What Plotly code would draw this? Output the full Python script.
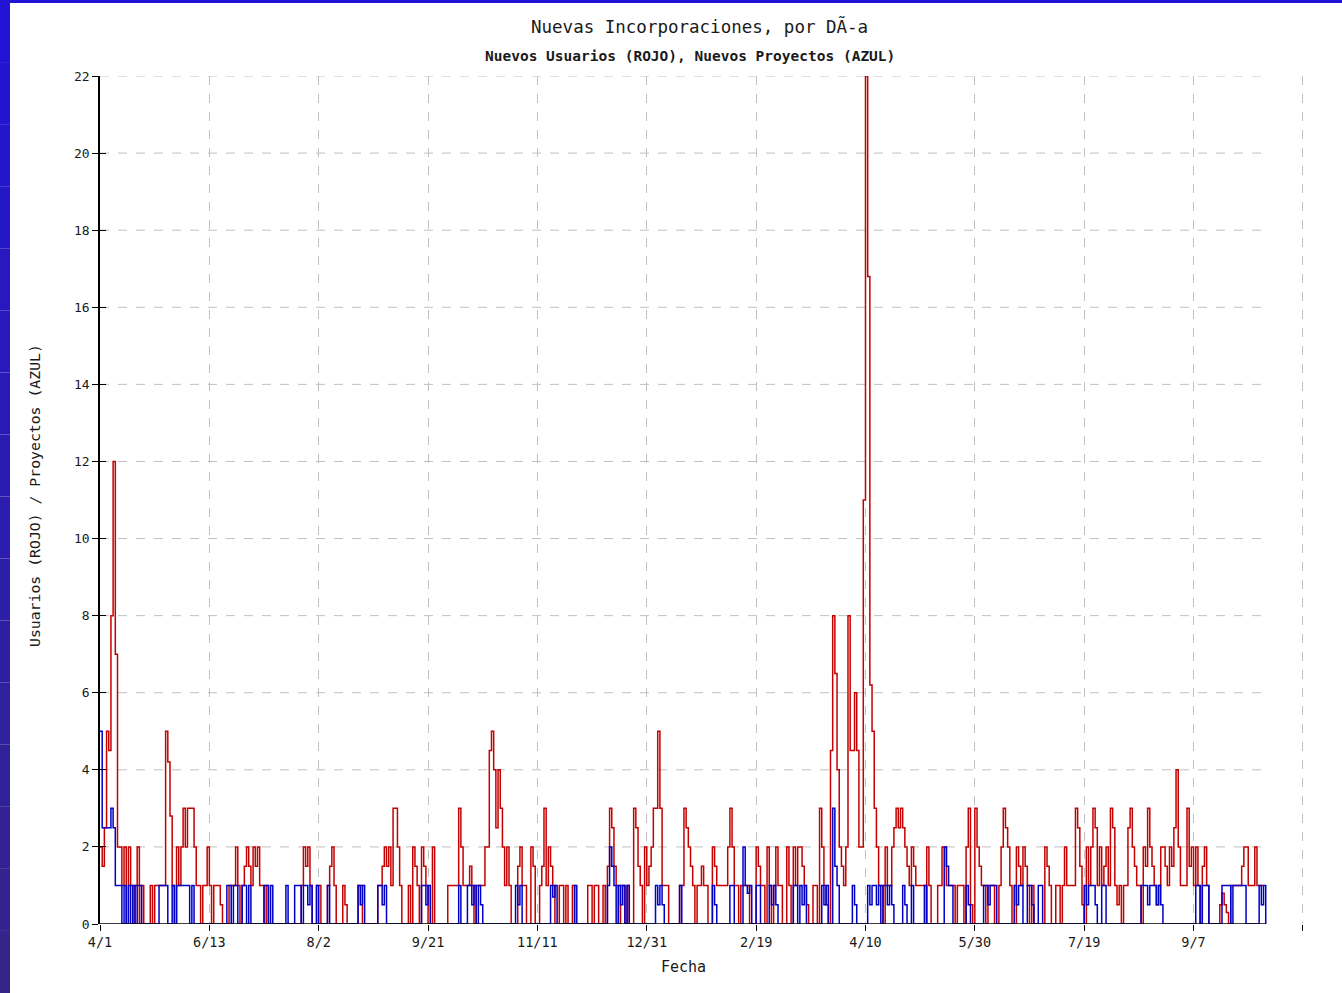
import plotly.graph_objects as go

# Nuevos usuarios por día (ROJO)
usuarios = [
    2, 1.5, 2.5, 5, 4.5, 8, 12, 7, 2, 2,
    1, 2, 0, 2, 1, 0, 1, 2, 0, 1,
    0, 0, 0, 1, 0, 1, 1, 1, 1, 1,
    5, 4.2, 2.8, 1, 0, 2, 1, 2, 3, 2,
    3, 3, 3, 2, 1, 1, 0, 1, 1, 2,
    1, 0, 1, 1, 1, 0.5, 0, 0, 0, 1,
    1, 1, 2, 1, 0, 1, 1.5, 2, 1.5, 1,
    2, 1.5, 2, 1, 1, 0, 1, 0, 0, 0,
    0, 0, 0, 0, 0, 0, 0, 0, 0, 0,
    0, 0, 1, 2, 1.5, 2, 1, 0, 0, 1,
    1, 0, 0, 0, 1, 1.5, 2, 1, 0, 0,
    0, 1, 0.5, 0, 0, 0, 0, 0, 1, 1,
    0, 0, 0, 0, 0, 0, 0, 1, 1, 1.5,
    2, 1.5, 2, 1, 3, 3, 2, 1, 0, 0,
    0, 1, 0, 2, 1.5, 1, 0, 2, 1.5, 1,
    0, 0, 2, 0, 0, 0, 0, 0, 0, 1,
    1, 1, 1, 1, 3, 2, 1, 1, 1, 1.5,
    1, 0, 1, 1, 1, 1, 2, 2, 4.5, 5,
    4, 2.5, 4, 3, 2, 1, 2, 1, 0, 0,
    0, 1.5, 2, 1, 1, 0, 0, 2, 1.5, 0,
    0, 1, 1.5, 3, 1, 2, 1.5, 1, 0, 0,
    1, 1, 0, 1, 0, 0, 1, 0, 0, 0,
    0, 0, 0, 1, 1, 0, 1, 1, 0, 0,
    1, 0, 1.5, 3, 2.5, 1.5, 1, 0, 1, 1,
    0, 1, 0, 0, 3, 2.5, 1.5, 1, 0, 2,
    1, 1.5, 2, 3, 3, 5, 3, 1, 1, 1,
    0, 0, 0, 0, 0, 1, 1, 3, 2.5, 2,
    1.5, 1, 0, 1, 1, 1.5, 1, 1, 0, 0,
    2, 1.5, 1, 1, 1, 1, 1, 2, 3, 2,
    1, 1, 0, 1, 1, 1, 1, 0, 0, 0,
    2, 1.5, 1, 1, 0, 2, 1, 0, 1, 2,
    1, 1, 0, 0, 2, 1, 0, 2, 1, 2,
    2, 1.5, 1, 0.5, 0, 0, 1, 1, 0, 3,
    2, 1, 0.5, 0, 4.5, 8, 6.5, 4, 2, 1.5,
    1, 2, 8, 4.5, 4.5, 6, 4.5, 2, 2, 11,
    22, 16.8, 6.2, 5, 3, 2, 1, 1, 0, 2,
    1, 1, 2, 2.5, 3, 2.5, 3, 2.5, 2, 1.5,
    1, 2, 1.5, 1, 1, 1, 1, 0, 2, 1,
    0, 0, 0, 1, 1, 2, 2, 1, 1, 1,
    1, 0, 1, 1, 1, 0, 2, 3, 0.5, 0,
    3, 2, 1.5, 1, 1, 0, 1, 1, 1, 0,
    0, 1, 2, 3, 2.5, 2, 1, 0, 0, 2,
    1.5, 1, 2, 1.5, 1, 0, 1, 0, 0, 0,
    0, 0, 2, 1.5, 1, 0, 0, 1, 1, 0,
    1, 2, 1, 1, 1, 1, 3, 2.5, 1.5, 0.5,
    0, 2, 1, 2, 3, 2.5, 1, 2, 1, 1.5,
    2, 1, 3, 2.5, 1, 0.5, 1, 0, 1, 1,
    2.5, 3, 2, 1.5, 1, 1, 0, 2, 1.5, 3,
    2, 1.5, 1, 0.5, 1, 2, 2, 1.5, 1, 2,
    1.5, 2.5, 4, 2, 1, 1, 1, 3, 1.5, 2,
    1, 2, 1, 0, 1.5, 2, 1, 0, 0,
    0, 0, 0, 0.5, 0.8, 0.5, 0.3, 0, 1, 1,
    1, 1, 1, 1.5, 2, 2, 1, 1, 1, 2,
    1, 1, 1, 1,
]

# Nuevos proyectos por día (AZUL)
proyectos = [
    5, 2.5, 2.5, 2.5, 2.5, 3, 2.5, 1, 1, 1,
    0, 1, 0, 1, 0, 1, 0, 1, 1, 0,
    0, 0, 0, 0, 0, 0, 0, 1, 1, 1,
    1, 0, 0, 1, 0, 1, 1, 1, 1, 1,
    1, 0, 1, 0, 0, 0, 0, 0, 0, 0,
    0, 0, 0, 0, 0, 0, 0, 0, 1, 1,
    0, 1, 1, 0, 0, 1, 1, 0, 1, 0,
    0, 0, 0, 0, 0, 1, 1, 0, 1, 0,
    0, 0, 0, 0, 0, 1, 0, 0, 0, 1,
    1, 1, 0, 1, 1, 0.5, 1, 0, 0, 1,
    0, 0, 0, 0, 1, 0, 0, 0, 0, 0,
    0, 0, 0, 0, 0, 0, 0, 0, 1, 0.5,
    1, 0, 0, 0, 0, 0, 0, 1, 1, 0.5,
    1, 0, 0, 0, 0, 0, 0, 0, 0, 0,
    0, 0, 0, 0, 0, 0, 0, 1, 1, 0.5,
    1, 0, 0, 0, 0, 0, 0, 0, 0, 0,
    0, 0, 0, 0, 1, 0, 0, 0, 1, 1,
    0.5, 1, 0, 1, 0.5, 0, 0, 0, 0, 0,
    0, 0, 0, 0, 0, 0, 0, 0, 0, 0,
    1, 0.5, 1, 0, 0, 0, 0, 0, 0, 0,
    0, 0, 0, 0, 0, 0, 1, 0.7, 1, 0,
    0, 0, 0, 0, 0, 0, 0, 1, 0, 0,
    0, 0, 0, 0, 0, 0, 0, 0, 0, 0,
    0, 0, 1, 2, 1.5, 1, 0, 1, 0.5, 1,
    0, 1, 0, 0, 0, 0, 0, 0, 0, 0,
    0, 0, 0, 0, 1, 0.5, 1, 0.5, 0, 0,
    0, 0, 0, 0, 0, 1, 0, 0, 0, 0,
    0, 0, 0, 0, 0, 0, 0, 0, 0, 0,
    1, 0.5, 0, 0, 0, 0, 0, 0, 1, 1,
    0, 0, 0, 0, 2, 1, 0.8, 1, 0, 0,
    1, 1, 0, 0, 0, 0, 1, 0.5, 1, 0.5,
    0, 0, 0, 0, 0, 0, 0, 1, 1, 0,
    1, 0.5, 1, 0, 0, 0, 0, 0, 0, 0,
    1, 0.5, 1, 0, 0, 3, 1.5, 1, 0, 0,
    0, 0, 0, 0, 1, 0.5, 0, 0, 0, 0,
    0, 1, 0.5, 1, 1, 0.5, 1, 0, 1, 1,
    0.5, 1, 0.5, 0, 0, 0, 0, 1, 0.5, 0,
    0, 1, 0, 0, 0, 0, 0, 1, 0, 0,
    0, 0, 0, 0, 0, 0, 2, 1.5, 1, 1,
    0, 0, 0, 0, 0, 0, 1, 0.5, 0, 0,
    0, 0, 0, 0, 1, 1, 0.5, 1, 1, 1,
    0, 0, 0, 0, 0, 0, 0, 0, 1, 0.5,
    1, 1, 0, 0, 1, 1, 0.5, 0, 0, 1,
    1, 0, 0, 0, 0, 0, 0, 0, 0, 0,
    0, 0, 0, 0, 0, 0, 0, 0, 0, 0,
    1, 0.5, 1, 1, 1, 0.5, 0, 0, 1, 1,
    0, 0, 0, 0, 0, 0, 0, 0, 0, 0,
    0, 0, 0, 0, 0, 0, 1, 1, 1, 0.5,
    1, 1, 1, 0.5, 1, 0.5, 0, 0, 0, 0,
    0, 0, 0, 0, 0, 0, 0, 0, 0, 0,
    0, 1, 1, 0, 1, 1, 1, 0, 0, 0,
    0, 0, 0, 1, 1, 1, 1, 0, 1, 1,
    1, 1, 1, 1, 0, 0, 0, 0, 0, 0,
    1, 0.5, 1, 0,
]

tick_days = [0, 50, 100, 150, 200, 250, 300, 350, 400, 450, 500, 550]
tick_labels = ["4/1", "6/13", "8/2", "9/21", "11/11", "12/31", "2/19", "4/10",
               "5/30", "7/19", "9/7", ""]
y_ticks = [0, 2, 4, 6, 8, 10, 12, 14, 16, 18, 20, 22]

dias = list(range(len(usuarios)))
dias_p = list(range(len(proyectos)))
fin = max(len(usuarios), len(proyectos)) - 1

FONT = "DejaVu Sans Mono"
TXT = "#1a1a1a"

fig = go.Figure()
fig.add_trace(go.Scatter(x=dias, y=usuarios, mode="lines", line_shape="hv",
                         line=dict(color="#c40000", width=1.5), showlegend=False))
fig.add_trace(go.Scatter(x=dias_p, y=proyectos, mode="lines", line_shape="hv",
                         line=dict(color="#0000c8", width=1.5), showlegend=False))

shapes = []
for v in y_ticks[1:]:
    shapes.append(dict(type="line", xref="x", yref="y", x0=0, x1=fin, y0=v, y1=v,
                       line=dict(color="#c0c0c0", width=1, dash="dash"), layer="below"))
shapes.append(dict(type="line", xref="x", yref="y", x0=0, x1=fin, y0=0, y1=0,
                   line=dict(color="black", width=1.5), layer="above"))

W, H = 1342, 993
L, R, T, B = 100, 38, 76, 69
pw, ph = W - L - R, H - T - B
def px2x(p):
    return (p - L) / pw
def py2y(p):
    return (H - B - p) / ph
n = 16
for i in range(n):
    t = i / (n - 1)
    r = int(0x22 + (0x35 - 0x22) * t)
    g = int(0x14 + (0x25 - 0x14) * t)
    b = int(0xd4 + (0x8a - 0xd4) * t)
    shapes.append(dict(type="rect", xref="paper", yref="paper",
                       x0=px2x(0), x1=px2x(10), y0=py2y(i * H / n), y1=py2y((i + 1) * H / n),
                       fillcolor=f"rgb({r},{g},{b})", line=dict(width=0), layer="below"))
shapes.append(dict(type="rect", xref="paper", yref="paper",
                   x0=px2x(0), x1=px2x(W), y0=py2y(0), y1=py2y(3),
                   fillcolor="rgb(34,20,212)", line=dict(width=0), layer="below"))

fig.update_layout(
    width=W, height=H,
    margin=dict(l=L, r=R, t=T, b=B, pad=0),
    paper_bgcolor="white", plot_bgcolor="white",
    shapes=shapes,
    font=dict(family=FONT, color=TXT, size=13),
    xaxis=dict(range=[0, 550.5], tickmode="array", tickvals=tick_days, ticktext=tick_labels,
               showgrid=True, gridcolor="#c0c0c0", griddash="dash", gridwidth=1,
               showline=False, zeroline=False, ticks="outside", ticklen=6,
               tickcolor="black", tickfont=dict(size=13.5, family=FONT, color=TXT)),
    yaxis=dict(range=[0, 22], tickmode="array", tickvals=y_ticks,
               showgrid=False, showline=True, linecolor="black", linewidth=1.5,
               zeroline=False, ticks="outside", ticklen=6, tickcolor="black",
               tickfont=dict(size=13, family=FONT, color=TXT)),
    yaxis2=dict(range=[0, 22], overlaying="y", tickmode="array", tickvals=y_ticks,
                showticklabels=False, showgrid=False, zeroline=False,
                ticks="inside", ticklen=6, tickcolor="black", side="left"),
    annotations=[
        dict(text="Nuevas Incorporaciones, por DÃ-a", xref="paper", yref="paper",
             x=px2x(699), y=py2y(26), showarrow=False, xanchor="center", yanchor="middle",
             font=dict(size=17.5, family=FONT, color=TXT)),
        dict(text="<b>Nuevos Usuarios (ROJO), Nuevos Proyectos (AZUL)</b>", xref="paper", yref="paper",
             x=px2x(690), y=py2y(56), showarrow=False, xanchor="center", yanchor="middle",
             font=dict(size=14.5, family=FONT, color=TXT)),
        dict(text="Fecha", xref="paper", yref="paper",
             x=px2x(683), y=py2y(967), showarrow=False, xanchor="center", yanchor="middle",
             font=dict(size=15, family=FONT, color=TXT)),
        dict(text="Usuarios (ROJO) / Proyectos (AZUL)", xref="paper", yref="paper",
             x=px2x(35), y=py2y(496), showarrow=False, xanchor="center", yanchor="middle",
             textangle=-90, font=dict(size=14.8, family=FONT, color=TXT)),
    ],
)
fig.add_trace(go.Scatter(x=[0], y=[0], yaxis="y2", mode="markers",
                         marker=dict(opacity=0), showlegend=False, hoverinfo="skip"))

fig.write_html("out.html", config={"displayModeBar": False},
               post_script="document.body.style.margin='0';document.body.style.overflow='hidden';")
